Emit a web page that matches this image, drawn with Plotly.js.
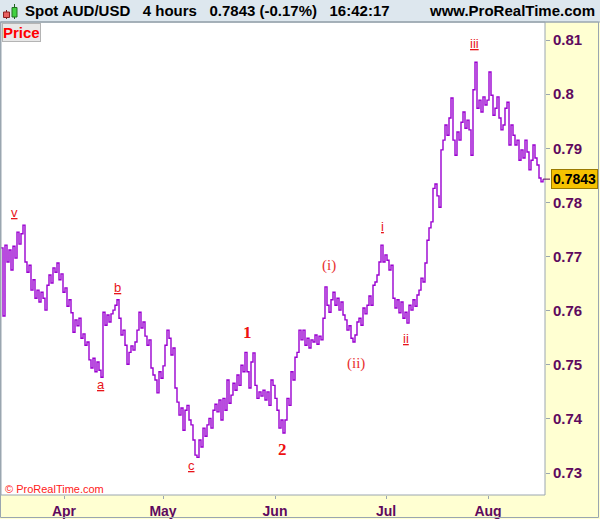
<!DOCTYPE html>
<html><head><meta charset="utf-8">
<script src="https://cdn.plot.ly/plotly-3.0.1.min.js"></script>
<style>html,body{margin:0;padding:0;background:#fff}#chart{width:600px;height:519px}</style>
</head><body><div id="chart"></div>
<script>
// AUD/USD 4-hour closes (sampled), mid-March to mid-August 2017
const prices = [
0.7716,0.7590,0.7721,0.7690,0.7712,0.7675,0.7719,0.7697,0.7745,0.7723,
0.7742,0.7758,0.7690,0.7671,0.7684,0.7638,0.7657,0.7623,0.7638,0.7616,
0.7634,0.7623,0.7601,0.7647,0.7666,0.7651,0.7679,0.7671,0.7688,0.7657,
0.7668,0.7634,0.7642,0.7608,0.7620,0.7596,0.7560,0.7583,0.7572,0.7586,
0.7549,0.7557,0.7536,0.7542,0.7509,0.7494,0.7512,0.7487,0.7505,0.7490,
0.7477,0.7597,0.7573,0.7592,0.7579,0.7594,0.7601,0.7610,0.7620,0.7586,
0.7555,0.7564,0.7536,0.7501,0.7523,0.7535,0.7527,0.7542,0.7564,0.7597,
0.7568,0.7579,0.7553,0.7536,0.7546,0.7494,0.7481,0.7472,0.7448,0.7487,
0.7475,0.7498,0.7536,0.7564,0.7549,0.7518,0.7531,0.7457,0.7431,0.7407,
0.7420,0.7379,0.7416,0.7425,0.7398,0.7389,0.7361,0.7333,0.7329,0.7361,
0.7348,0.7383,0.7368,0.7389,0.7401,0.7383,0.7416,0.7427,0.7413,0.7435,
0.7398,0.7438,0.7416,0.7472,0.7429,0.7444,0.7466,0.7453,0.7481,0.7462,
0.7499,0.7487,0.7523,0.7487,0.7457,0.7505,0.7522,0.7462,0.7438,0.7450,
0.7442,0.7453,0.7435,0.7450,0.7425,0.7472,0.7462,0.7438,0.7416,0.7383,
0.7398,0.7374,0.7398,0.7438,0.7425,0.7487,0.7472,0.7514,0.7523,0.7564,
0.7546,0.7564,0.7536,0.7549,0.7531,0.7546,0.7542,0.7555,0.7538,0.7553,
0.7546,0.7586,0.7644,0.7610,0.7597,0.7620,0.7634,0.7610,0.7623,0.7601,
0.7616,0.7592,0.7583,0.7564,0.7572,0.7549,0.7542,0.7555,0.7579,0.7586,
0.7573,0.7605,0.7594,0.7610,0.7627,0.7610,0.7647,0.7653,0.7666,0.7690,
0.7721,0.7690,0.7703,0.7693,0.7675,0.7684,0.7623,0.7605,0.7620,0.7596,
0.7616,0.7586,0.7597,0.7577,0.7610,0.7601,0.7620,0.7608,0.7629,0.7638,
0.7660,0.7653,0.7688,0.7730,0.7753,0.7764,0.7826,0.7834,0.7812,0.7791,
0.7897,0.7915,0.7943,0.7924,0.7956,0.7993,0.7915,0.7887,0.7930,0.7915,
0.7948,0.7967,0.7937,0.7952,0.7934,0.7887,0.8008,0.8059,0.7974,0.7989,
0.7967,0.7995,0.7980,0.7989,0.8041,0.7998,0.7961,0.7974,0.7995,0.7956,
0.7934,0.7943,0.7974,0.7985,0.7906,0.7943,0.7924,0.7906,0.7915,0.7878,
0.7897,0.7882,0.7915,0.7893,0.7860,0.7878,0.7906,0.7882,0.7869,0.7845,
0.7838,0.7843
];
const monthTickPos = [31.5, 81, 137, 192.5, 243.5];
const monthLabels = ['Apr','May','Jun','Jul','Aug'];
const priceTicks = [0.73,0.74,0.75,0.76,0.77,0.78,0.79,0.80,0.81];
const lastPrice = 0.7843;

// Elliott wave labels: text, bar position, price level, style
const waveText  = ['v','a','b','c','1','2','(i)','(ii)','i','ii','iii'];
const waveBar   = [6.5, 50, 58, 95, 123, 140.5, 164, 177.5, 190.5, 202.5, 236.5];
const wavePrice = [0.7782,0.7463,0.7642,0.7313,0.7559,0.7344,0.7684,0.7503,0.7756,0.7549,0.8094];
const waveKind  = ['u','u','u','u','n','n','p','p','u','u','u'];

const barIdx = prices.map((_, i) => i);

// pixel -> paper helpers (layout only)
const L=1, R=545, T=22, B=495;
const px = x => (x - L) / (R - L);
const py = y => (B - y) / (B - T);

const purple = '#5e0a5e';
const ann = [];
waveText.forEach((t, i) => {
  const k = waveKind[i];
  let txt = t, font;
  if (k === 'u') { txt = '<u>' + t + '</u>'; font = {family:'Liberation Sans, Arial, sans-serif', size:13, color:'#e8141a'}; }
  else if (k === 'n') { txt = '<b>' + t + '</b>'; font = {family:'Liberation Serif, Times New Roman, serif', size:17, color:'#ee1111'}; }
  else { font = {family:'Liberation Serif, Times New Roman, serif', size:15, color:'#e83030'}; }
  ann.push({x: waveBar[i], y: wavePrice[i], xref:'x', yref:'y', text: txt, showarrow:false, font, xanchor:'center', yanchor:'middle'});
});
// header texts
ann.push({xref:'paper', yref:'paper', x: px(23), y: py(11), xanchor:'left', yanchor:'middle', showarrow:false,
  text:'<b>Spot AUD/USD   4 hours   0.7843 (-0.17%)   16:42:17</b>',
  font:{family:'Liberation Sans, Arial, sans-serif', size:15, color:'#000'}});
ann.push({xref:'paper', yref:'paper', x: px(597), y: py(11), xanchor:'right', yanchor:'middle', showarrow:false,
  text:'<b>www.ProRealTime.com</b>', font:{family:'Liberation Sans, Arial, sans-serif', size:15, color:'#000'}});
// Price tag
ann.push({xref:'paper', yref:'paper', x: px(2), y: py(23), xanchor:'left', yanchor:'top', showarrow:false,
  text:'<b>Price</b>', font:{family:'Liberation Sans, Arial, sans-serif', size:15, color:'#ff0000'},
  bgcolor:'#e8e8e8', bordercolor:'#b4b4b4', borderwidth:1, borderpad:0});
// copyright
ann.push({xref:'paper', yref:'paper', x: px(3), y: py(489), xanchor:'left', yanchor:'middle', showarrow:false,
  text:'© ProRealTime.com', font:{family:'Liberation Sans, Arial, sans-serif', size:11, color:'#ff2020'}});
// last price box
ann.push({xref:'paper', yref:'y', x: px(551), y: lastPrice, xanchor:'left', yanchor:'middle', showarrow:false,
  text:'<b>' + lastPrice.toFixed(4) + '</b>', font:{family:'Liberation Sans, Arial, sans-serif', size:14, color:'#000'},
  bgcolor:'#f6c200', bordercolor:'#9a7a00', borderwidth:1, borderpad:1});

const shapes = [
  {type:'rect', xref:'paper', yref:'paper', x0:px(0), x1:px(600), y0:py(22), y1:py(0), fillcolor:'#dde7ee', line:{width:0}, layer:'below'},
  {type:'line', xref:'paper', yref:'paper', x0:px(0), x1:px(600), y0:py(22), y1:py(22), line:{color:'#9aa6b0', width:1}},
  {type:'rect', xref:'paper', yref:'paper', x0:px(0.5), x1:px(598.5), y0:py(517.5), y1:py(22), line:{color:'#9aa6b0', width:1}},
  {type:'rect', xref:'paper', yref:'paper', x0:0, x1:1, y0:0, y1:1, line:{color:'#9aa6b0', width:1}},
  // candle icon
  {type:'line', xref:'paper', yref:'paper', x0:px(6.5), x1:px(6.5), y0:py(19), y1:py(10), line:{color:'#7a2020', width:1}},
  {type:'rect', xref:'paper', yref:'paper', x0:px(3.5), x1:px(9.5), y0:py(17.5), y1:py(12), fillcolor:'#e86060', line:{color:'#8a2020', width:1}},
  {type:'line', xref:'paper', yref:'paper', x0:px(14.5), x1:px(14.5), y0:py(19), y1:py(4), line:{color:'#206020', width:1}},
  {type:'rect', xref:'paper', yref:'paper', x0:px(12), x1:px(17), y0:py(17), y1:py(7.5), fillcolor:'#40d040', line:{color:'#207020', width:1}},
  // last price tick
  {type:'line', xref:'paper', yref:'y', x0:px(543), x1:px(550), y0:lastPrice, y1:lastPrice, line:{color:purple, width:1}}
];

const trace = {
  x: barIdx, y: prices, type:'scatter', mode:'lines',
  line:{color:'#9a00d0', width:1.4, shape:'hv'}, hoverinfo:'skip'
};

const layout = {
  width:600, height:519,
  margin:{l:L, r:600-R, t:T, b:519-B, pad:0},
  paper_bgcolor:'#ffffd2', plot_bgcolor:'#ffffff',
  showlegend:false,
  xaxis:{range:[0,272], tickmode:'array', tickvals:monthTickPos, ticktext:monthLabels.map(m=>'<b>'+m+'</b>'),
    ticks:'outside', ticklen:3, tickcolor:'#9aa6b0', showgrid:false, zeroline:false, showline:false,
    tickfont:{family:'Liberation Sans, Arial, sans-serif', size:14, color:purple}, fixedrange:true},
  yaxis:{range:[0.72594,0.81333], side:'right', tickmode:'array', tickvals:priceTicks,
    ticktext:priceTicks.map(v=>'<b>'+String(+v.toFixed(2))+'</b>'),
    ticks:'outside', ticklen:4, tickcolor:'#9aa6b0', showgrid:false, zeroline:false, showline:false,
    tickfont:{family:'Liberation Sans, Arial, sans-serif', size:15, color:purple}, fixedrange:true},
  annotations: ann, shapes: shapes
};
Plotly.newPlot('chart', [trace], layout, {displayModeBar:false, staticPlot:true});
</script></body></html>
